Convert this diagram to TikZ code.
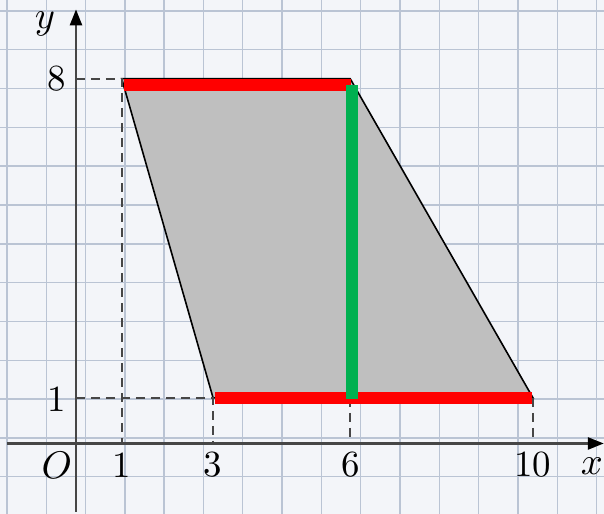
\documentclass[tikz,border=0pt]{standalone}
\usetikzlibrary{arrows.meta}
\definecolor{paper}{RGB}{243,245,249}
\definecolor{gridline}{RGB}{186,196,212}
\definecolor{axisgray}{RGB}{70,70,70}
\definecolor{shade}{RGB}{191,191,191}
\definecolor{edgered}{RGB}{255,0,0}
\definecolor{stripgreen}{RGB}{0,176,80}
\tikzset{
  axisline/.style={line width=0.025cm, axisgray, -{Triangle[length=0.16cm,width=0.12cm,black]}},
  guide/.style={axisgray, line width=0.02cm, dash pattern=on 0.09cm off 0.06cm},
  ticklabel/.style={font=\fontsize{10.5}{12}\selectfont, inner sep=0pt},
}
\begin{document}
\begin{tikzpicture}[x=0.457cm,y=0.456cm, >=Latex]
  \useasboundingbox[fill=paper] (-1.663,-1.546) rectangle (11.554,9.726);
  % paper grid
  \foreach \k in {0,...,15}
    \draw[gridline, line width=0.014cm] ({-1.51+0.86*\k},-1.546) -- ({-1.51+0.86*\k},9.726);
  \foreach \k in {0,...,12}
    \draw[gridline, line width=0.014cm] (-1.663,{9.485-0.851*\k}) -- (11.554,{9.485-0.851*\k});
  % shaded region
  \draw[fill=shade, line width=0.016cm] (1,8) -- (6,8) -- (10,1) -- (3,1) -- cycle;
  % guides
  \draw[guide] (0,8) -- (1,8) -- (1,0);
  \draw[guide] (0,1) -- (3,1) -- (3,0);
  \draw[guide] (6,1) -- (6,0);
  \draw[guide] (10,1) -- (10,0);
  % highlighted edges
  \draw[edgered, line width=0.12cm] (1.06,7.87) -- (6.02,7.87);
  \draw[edgered, line width=0.12cm] (3.05,1) -- (9.98,1);
  \draw[stripgreen, line width=0.12cm] (6.04,0.97) -- (6.04,7.87);
  % axes
  \draw[axisline] (-1.51,0) -- (11.55,0);
  \draw[axisline] (0,-1.5) -- (0,9.52);
  % labels
  \node[ticklabel] (lbly) at (-0.68,9.2) {$y$};
  \node[ticklabel] (lbleight) at (-0.42,8) {8};
  \node[ticklabel] (lblone) at (-0.42,0.98) {1};
  \node[ticklabel] (lblO) at (-0.42,-0.47) {$O$};
  \node[ticklabel] (xone) at (1,-0.47) {1};
  \node[ticklabel] (xthree) at (3,-0.47) {3};
  \node[ticklabel] (xsix) at (6.02,-0.47) {6};
  \node[ticklabel] (xten) at (10,-0.47) {10};
  \node[ticklabel] (lblx) at (11.29,-0.49) {$x$};
\end{tikzpicture}
\end{document}
